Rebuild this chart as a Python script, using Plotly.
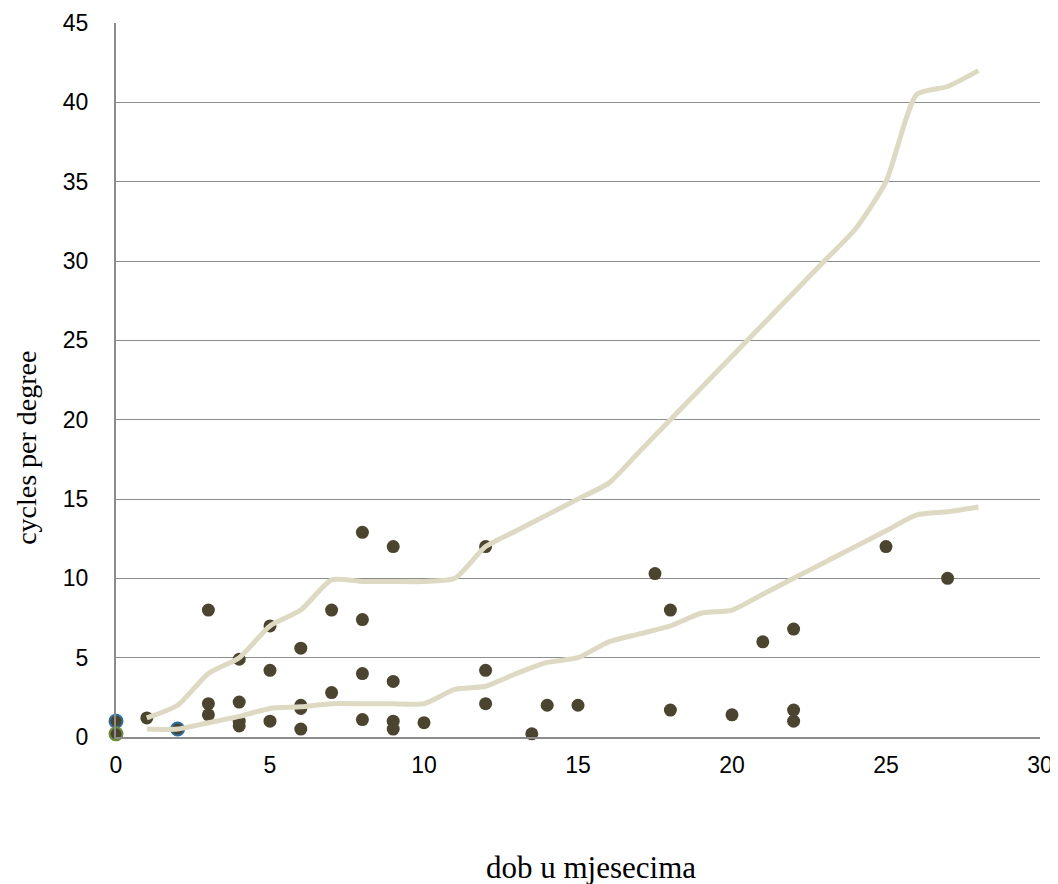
import plotly.graph_objects as go

# Measured data points (age in months, cycles per degree)
pts_x = [1, 3, 3, 3, 4, 4, 4, 4, 5, 5, 5, 6, 6, 6, 6, 7, 7, 8, 8, 8, 8,
         9, 9, 9, 9, 10, 12, 12, 12, 13.5, 14, 15, 17.5, 18, 18, 20, 21,
         22, 22, 22, 25, 27]
pts_y = [1.2, 8.0, 2.1, 1.4, 4.9, 2.2, 1.0, 0.7, 7.0, 4.2, 1.0, 5.6, 2.0, 1.8, 0.5,
         8.0, 2.8, 12.9, 7.4, 4.0, 1.1, 12.0, 3.5, 1.0, 0.5, 0.9, 12.0, 4.2, 2.1,
         0.2, 2.0, 2.0, 10.3, 8.0, 1.7, 1.4, 6.0, 6.8, 1.7, 1.0, 12.0, 10.0]

blue_x = [0, 2]
blue_y = [1.0, 0.5]
green_x = [0]
green_y = [0.2]

# Norm curves
upper_x = [1, 2, 3, 4, 5, 6, 7, 8, 9, 10, 11, 12, 13, 14, 15, 16, 17, 18, 19, 20,
           21, 22, 23, 24, 25, 26, 27, 28]
upper_y = [1.2, 2.0, 4.0, 5.0, 7.0, 8.0, 9.9, 9.8, 9.8, 9.8, 10.0, 12.0, 13.0, 14.0,
           15.0, 16.0, 18.0, 20.0, 22.0, 24.0, 26.0, 28.0, 30.0, 32.0, 35.0, 40.5, 41.0, 42.0]
lower_x = [1, 2, 3, 4, 5, 6, 7, 8, 9, 10, 11, 12, 13, 14, 15, 16, 17, 18, 19, 20,
           21, 22, 23, 24, 25, 26, 27, 28]
lower_y = [0.5, 0.5, 0.9, 1.3, 1.8, 1.9, 2.1, 2.1, 2.1, 2.1, 3.0, 3.2, 4.0, 4.7,
           5.0, 6.0, 6.5, 7.0, 7.8, 8.0, 9.0, 10.0, 11.0, 12.0, 13.0, 14.0, 14.2, 14.5]

x_ticks = [0, 5, 10, 15, 20, 25, 30]
y_ticks = [0, 5, 10, 15, 20, 25, 30, 35, 40, 45]

dark = "#4B4530"
line_col = "#DDD9C3"
sans = "Liberation Sans, Arial, sans-serif"
serif = "Liberation Serif, Times New Roman, serif"

fig = go.Figure()
fig.add_trace(go.Scatter(x=pts_x, y=pts_y, mode="markers", cliponaxis=False,
                         marker=dict(size=13, color=dark, line=dict(width=0)),
                         showlegend=False))
fig.add_trace(go.Scatter(x=blue_x, y=blue_y, mode="markers", cliponaxis=False,
                         marker=dict(size=13, color=dark, line=dict(width=2, color="#2F6E9F")),
                         showlegend=False))
fig.add_trace(go.Scatter(x=green_x, y=green_y, mode="markers", cliponaxis=False,
                         marker=dict(size=13, color=dark, line=dict(width=2, color="#6E8E3C")),
                         showlegend=False))
fig.add_trace(go.Scatter(x=upper_x, y=upper_y, mode="lines", cliponaxis=False,
                         line=dict(color=line_col, width=5, shape="spline", smoothing=0.6),
                         showlegend=False))
fig.add_trace(go.Scatter(x=lower_x, y=lower_y, mode="lines", cliponaxis=False,
                         line=dict(color=line_col, width=5, shape="spline", smoothing=0.6),
                         showlegend=False))

fig.update_layout(
    width=1050, height=876,
    margin=dict(l=108, r=18, t=15, b=147, autoexpand=False),
    paper_bgcolor="white", plot_bgcolor="white",
    font=dict(family=sans, size=23, color="#000000"),
    annotations=[
        dict(text="dob u mjesecima", xref="paper", yref="paper", x=0.514, y=-0.183,
             xanchor="center", yanchor="middle", showarrow=False,
             font=dict(family=serif, size=31, color="#000000")),
        dict(text="cycles per degree", xref="paper", yref="paper", x=-0.0963, y=0.405,
             xanchor="center", yanchor="middle", showarrow=False, textangle=-90,
             font=dict(family=serif, size=28, color="#000000")),
    ],
)
fig.update_xaxes(
    range=[0, 30], tickvals=x_ticks, ticktext=[str(v) for v in x_ticks],
    showgrid=False, zeroline=False, automargin=False,
    showline=True, linecolor="#8C8C8C", linewidth=2,
    ticks="", ticklen=0, ticklabelstandoff=6,
    tickfont=dict(family=sans, size=23),
)
fig.update_yaxes(
    range=[0, 45], tickvals=y_ticks, ticktext=[str(v) for v in y_ticks],
    showgrid=True, gridcolor="#8C8C8C", gridwidth=1, zeroline=False, automargin=False,
    showline=True, linecolor="#8C8C8C", linewidth=2,
    ticks="", ticklen=0, ticklabelstandoff=21,
    tickfont=dict(family=sans, size=23),
)

fig.write_html("out.html")
